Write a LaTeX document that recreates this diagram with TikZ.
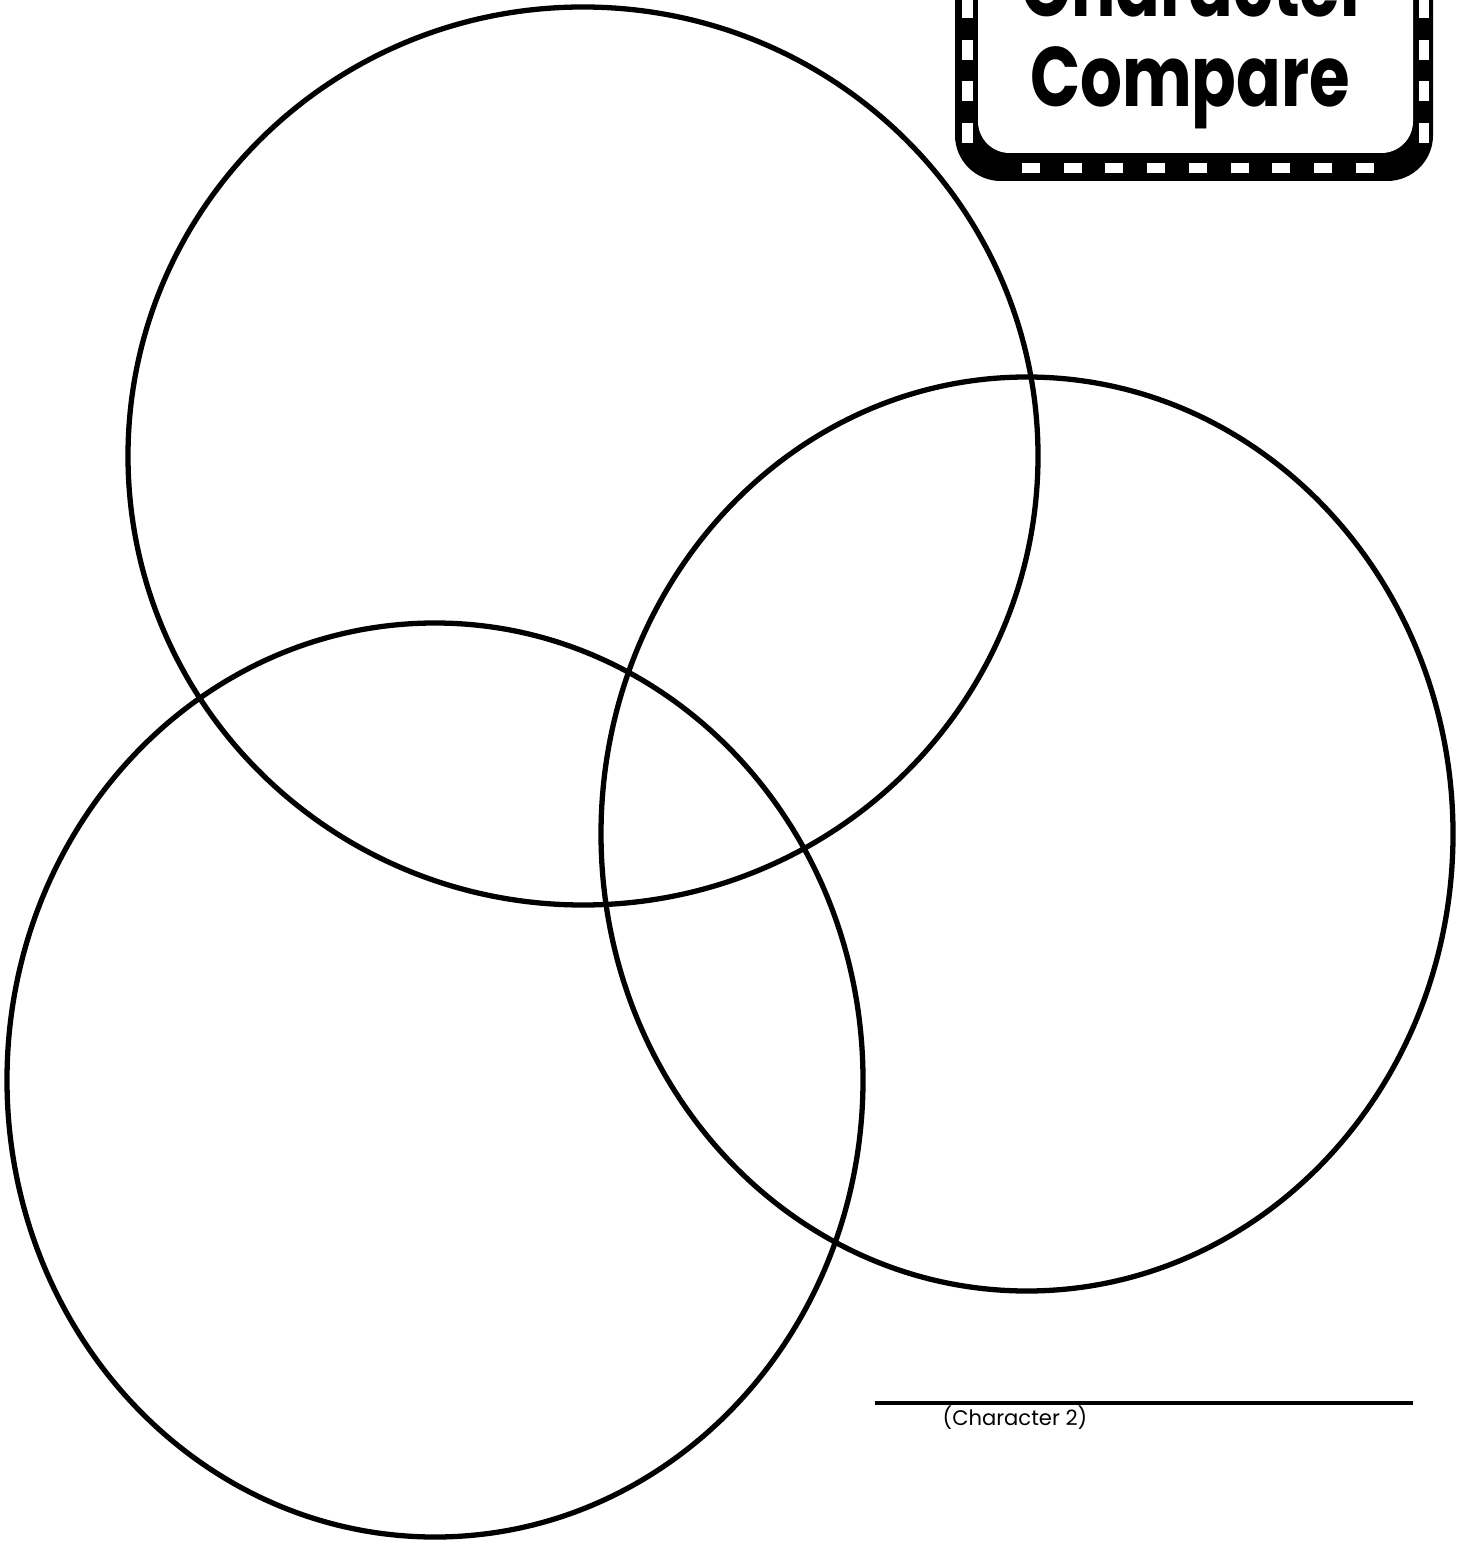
\documentclass[tikz,border=0pt]{standalone}
\usepackage{fontspec}
\newfontfamily\titlefont{Poppins}
\newfontfamily\labelfont{Poppins}
\begin{document}
\begin{tikzpicture}[x=0.01cm,y=-0.01cm,
  ring/.style={draw=black,line width=1.5pt},
  strip/.style={fill=black},
  hole/.style={fill=white},
  titletext/.style={anchor=base,inner sep=0pt,font=\titlefont\bfseries\fontsize{24}{28}\selectfont}]
\useasboundingbox (0,0) rectangle (1458,1543);
\clip (0,0) rectangle (1458,1543);
% circles
\draw[ring] (583,456) ellipse [x radius=455,y radius=449];
\draw[ring] (1027,834) ellipse [x radius=426,y radius=457];
\draw[ring] (435,1080) ellipse [x radius=428,y radius=457];
% title box
\fill[strip,rounded corners=13pt] (955,-120) rectangle (1433,181);
\fill[hole,rounded corners=9pt] (978,-120) rectangle (1413,153);
\foreach \i in {0,...,8}{
  \fill[hole] (1022+41.7*\i,163) rectangle ++(18,10);
}
\foreach \i in {0,...,3}{
  \fill[hole] (962,-2+41.7*\i) rectangle ++(11,20);
  \fill[hole] (1419,-2+41.7*\i) rectangle ++(10,20);
}
\node[titletext] (t1) at (1195,17) {\scalebox{0.78}[1]{Character}};
\node[titletext] (t2) at (1190,107) {\scalebox{0.78}[1]{Compare}};
% name line
\coordinate (la) at (875,1403);
\coordinate (lb) at (1413,1403);
\draw[line width=1.1pt] (la) -- (lb);
\node[anchor=base west,inner sep=0pt,font=\labelfont\fontsize{6}{7}\selectfont] (lbl) at (942,1425) {(Character 2)};
\end{tikzpicture}
\end{document}
